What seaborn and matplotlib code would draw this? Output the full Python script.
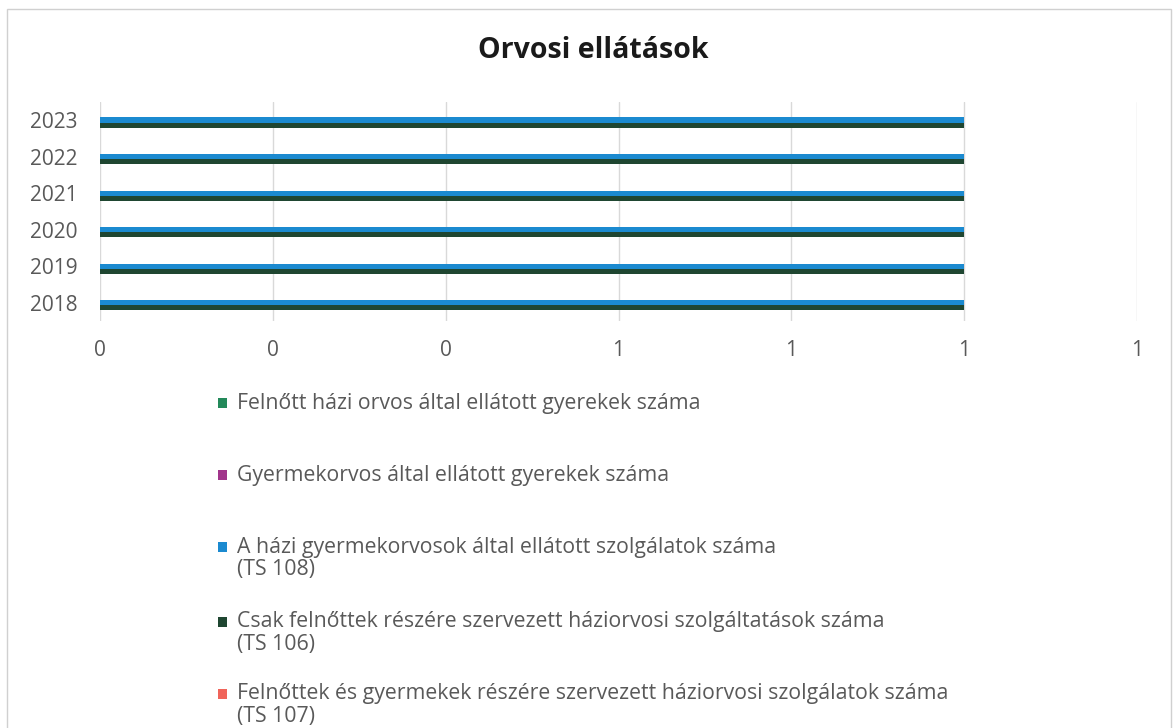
import numpy as np
import pandas as pd
import seaborn as sns
import matplotlib.pyplot as plt
from matplotlib.patches import Rectangle
from matplotlib.ticker import FormatStrFormatter, FixedLocator

# ---- data ----
years = ["2018", "2019", "2020", "2021", "2022", "2023"]
series_names = [
    "Felnőtt házi orvos által ellátott gyerekek száma",
    "Gyermekorvos által ellátott gyerekek száma",
    "A házi gyermekorvosok által ellátott szolgálatok száma (TS 108)",
    "Csak felnőttek részére szervezett háziorvosi szolgáltatások száma (TS 106)",
    "Felnőttek és gyermekek részére szervezett háziorvosi szolgálatok száma (TS 107)",
]
legend_lines = [
    ["Felnőtt házi orvos által ellátott gyerekek száma"],
    ["Gyermekorvos által ellátott gyerekek száma"],
    ["A házi gyermekorvosok által ellátott szolgálatok száma", "(TS 108)"],
    ["Csak felnőttek részére szervezett háziorvosi szolgáltatások száma", "(TS 106)"],
    ["Felnőttek és gyermekek részére szervezett háziorvosi szolgálatok száma", "(TS 107)"],
]
felnott_hazi_gyerek = [0, 0, 0, 0, 0, 0]
gyermekorvos_gyerek = [0, 0, 0, 0, 0, 0]
hazi_gyermekorvos_ts108 = [1, 1, 1, 1, 1, 1]
csak_felnott_ts106 = [1, 1, 1, 1, 1, 1]
felnott_es_gyermek_ts107 = [0, 0, 0, 0, 0, 0]
colors = ["#23895A", "#A1358B", "#1B8AD0", "#1F4631", "#F0645A"]
x_ticks = [0, 0.2, 0.4, 0.6, 0.8, 1.0, 1.2]
title = "Orvosi ellátások"

all_values = [felnott_hazi_gyerek, gyermekorvos_gyerek, hazi_gyermekorvos_ts108,
              csak_felnott_ts106, felnott_es_gyermek_ts107]
rows = []
for name, vals in zip(series_names, all_values):
    for y, v in zip(years, vals):
        rows.append({"year": y, "value": v, "series": name})
df = pd.DataFrame(rows)

# ---- figure ----
sns.set_theme(style="white")
plt.rcParams["font.family"] = ["Open Sans", "DejaVu Sans"]

W, H = 1174, 728
fig = plt.figure(figsize=(W / 100, H / 100), dpi=100)
fig.patch.set_facecolor("white")

ax_top, ax_bot = 101.7, 321.0
ax = fig.add_axes([100 / W, 1 - ax_bot / H, (1137 - 100) / W, (ax_bot - ax_top) / H])

sns.barplot(data=df, y="year", x="value", hue="series",
            order=years[::-1], hue_order=series_names, palette=colors,
            orient="h", width=0.7, saturation=1, linewidth=0,
            legend=False, ax=ax, errorbar=None)

ax.set_xlim(x_ticks[0], x_ticks[-1])
ax.xaxis.set_major_locator(FixedLocator(x_ticks))
ax.xaxis.set_major_formatter(FormatStrFormatter("%.0f"))
ax.grid(axis="x", color="#d9d9d9", linewidth=1.0)
ax.grid(axis="y", visible=False)
ax.set_axisbelow(True)
for s in ax.spines.values():
    s.set_visible(False)
ax.set_xlabel("")
ax.set_ylabel("")
ax.tick_params(axis="x", length=0, pad=14, labelsize=15, labelcolor="#595959")
ax.tick_params(axis="y", length=0, pad=16, labelsize=15, labelcolor="#595959")

# title
fig.text(593 / W, 1 - 50 / H, title, ha="center", va="center",
         fontsize=20.5, fontweight="bold", color="#1a1a1a")

# legend (manual layout, first-line aligned markers)
entry_y = [403, 475, 547, 622, 694]
line_gap = 22.5
sq_w, sq_h = 9, 10
for ycen, lines, c in zip(entry_y, legend_lines, colors):
    fig.patches.append(Rectangle(((222 - sq_w / 2) / W, 1 - (ycen + sq_h / 2) / H),
                                 sq_w / W, sq_h / H, transform=fig.transFigure,
                                 facecolor=c, edgecolor="none"))
    for k, line in enumerate(lines):
        fig.text(237 / W, 1 - (ycen + k * line_gap) / H, line, ha="left", va="center",
                 fontsize=15.3, color="#595959")

# outer chart border
fig.patches.append(Rectangle((7 / W, -0.05), (1171 - 7) / W, 1.05 - 9 / H,
                             transform=fig.transFigure, facecolor="none",
                             edgecolor="#d0d0d0", linewidth=1))

fig.savefig("out.png", dpi=100, facecolor="white")
